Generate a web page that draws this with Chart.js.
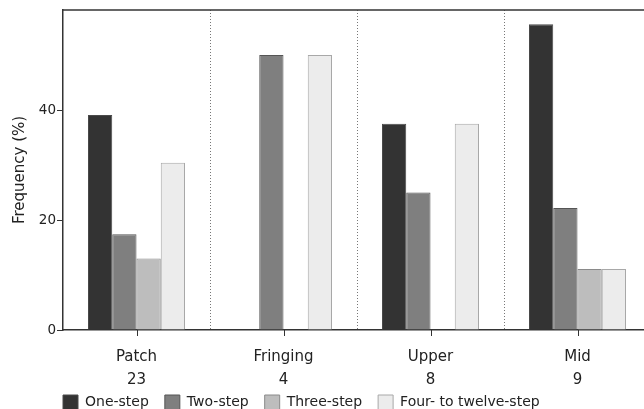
<!DOCTYPE html>
<html>
<head>
<meta charset="utf-8">
<script src="https://cdn.jsdelivr.net/npm/chart.js@4/dist/chart.umd.min.js"></script>
<style>
  html, body { margin: 0; padding: 0; background: #fff; overflow: hidden; }
  #wrap { width: 651px; height: 420px; }
</style>
</head>
<body>
<div id="wrap"><canvas id="chart"></canvas></div>
<script>
  // Datos (frecuencia en %)
  const habitats = ['Patch', 'Fringing', 'Upper', 'Mid'];
  const sampleSizes = ['23', '4', '8', '9'];
  const seriesNames = ['One-step', 'Two-step', 'Three-step', 'Four- to twelve-step'];
  const oneStep = [39.1, 0, 37.5, 55.6];
  const twoStep = [17.4, 50, 25, 22.2];
  const threeStep = [13.0, 0, 0, 11.1];
  const fourToTwelve = [30.4, 50, 37.5, 11.1];
  const yTicks = [0, 20, 40];

  const fills = ['#333333', '#7f7f7f', '#bdbdbd', '#ececec'];
  const edges = ['#4a4a4a', '#555555', '#8a8a8a', '#a8a8a8'];
  const FONT = 'DejaVu Sans';

  function makeSet(i, values) {
    return {
      label: seriesNames[i],
      data: values,
      backgroundColor: fills[i],
      borderColor: edges[i],
      borderWidth: function (c) { return c.raw === 0 ? 0 : 1; },
      categoryPercentage: 0.66,
      barPercentage: 1.0,
    };
  }

  // Marcas de eje en el centro de cada categoría + línea superior del marco.
  const framePlugin = {
    id: 'frame',
    afterDatasetsDraw(chart) {
      const ctx = chart.ctx;
      const area = chart.chartArea;
      const x = chart.scales.x;
      ctx.save();
      ctx.strokeStyle = '#333333';
      ctx.lineWidth = 1.5;
      ctx.beginPath();
      ctx.moveTo(area.left, area.top);
      ctx.lineTo(area.right, area.top);
      ctx.stroke();
      ctx.lineWidth = 1;
      habitats.forEach(function (h, i) {
        const px = Math.round(x.getPixelForValue(i)) + 0.5;
        ctx.beginPath();
        ctx.moveTo(px, area.bottom);
        ctx.lineTo(px, area.bottom + 6);
        ctx.stroke();
      });
      ctx.restore();
    },
  };

  // Leyenda alineada con el eje Y; etiquetas de dos líneas sin recortar.
  const layoutTweaks = {
    id: 'layoutTweaks',
    afterLayout(chart) {
      chart.legend.left = 63 - chart.legend.options.labels.padding;
      chart.scales.x.bottom = chart.height;
    },
  };

  new Chart(document.getElementById('chart'), {
    type: 'bar',
    data: {
      labels: habitats.map(function (h, i) { return [h, sampleSizes[i]]; }),
      datasets: [
        makeSet(0, oneStep),
        makeSet(1, twoStep),
        makeSet(2, threeStep),
        makeSet(3, fourToTwelve),
      ],
    },
    options: {
      responsive: true,
      maintainAspectRatio: false,
      animation: false,
      layout: { padding: { top: 10, left: 0, right: 0, bottom: 0 } },
      plugins: {
        tooltip: { enabled: false },
        legend: {
          position: 'bottom',
          align: 'start',
          labels: {
            boxWidth: 15,
            boxHeight: 15,
            padding: 16,
            color: '#222',
            font: { family: FONT, size: 14 },
          },
        },
      },
      scales: {
        x: {
          grid: {
            offset: true,
            color: function (c) { return c.index === 0 ? 'rgba(0,0,0,0)' : '#777'; },
            lineWidth: 1,
            tickLength: 6,
            tickColor: 'rgba(0,0,0,0)',
          },
          border: { display: true, color: '#333', width: 1.5, dash: [1, 2] },
          ticks: {
            color: '#222',
            padding: 10,
            maxRotation: 0,
            font: { family: FONT, size: 15, lineHeight: 1.5 },
          },
          afterFit: function (scale) {
            scale.height = scale.chart.height - 330 - scale.chart.legend.height;
          },
        },
        y: {
          min: 0,
          max: 58.2,
          afterBuildTicks: function (scale) {
            scale.ticks = yTicks.map(function (v) { return { value: v }; });
          },
          grid: { drawOnChartArea: false, tickLength: 6, color: '#333' },
          border: { display: true, color: '#333', width: 1.5 },
          ticks: {
            color: '#222',
            padding: 1,
            font: { family: FONT, size: 13.5 },
          },
          title: {
            display: true,
            text: 'Frequency (%)',
            color: '#222',
            padding: { top: 11, bottom: 0 },
            font: { family: FONT, size: 15 },
          },
          afterFit: function (scale) { scale.width = 63; },
        },
      },
    },
    plugins: [framePlugin, layoutTweaks],
  });
</script>
</body>
</html>
